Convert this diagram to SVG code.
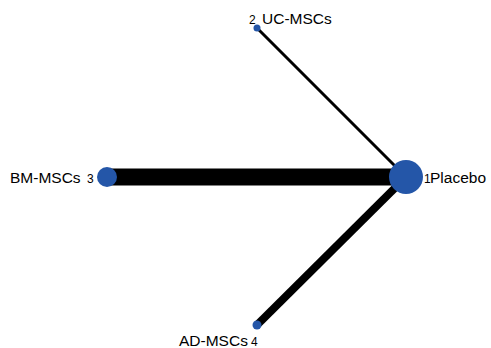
<svg xmlns="http://www.w3.org/2000/svg" width="491" height="348" viewBox="0 0 491 348">
  <style>
    .edge { stroke: #000; fill: none; }
    .node { fill: #2456A8; }
    .lbl { font-family: "Liberation Sans", Arial, sans-serif; font-size: 15.5px; fill: #000; }
    .num { font-family: "Liberation Sans", Arial, sans-serif; font-size: 12px; fill: #000; }
  </style>
  <rect width="491" height="348" fill="#fff"/>
  <g id="connectors">
    <line class="edge" x1="406" y1="177" x2="257" y2="28" stroke-width="3"/>
    <line class="edge" x1="406" y1="177" x2="107" y2="177" stroke-width="17"/>
    <line class="edge" x1="406" y1="177" x2="257" y2="325" stroke-width="8"/>
  </g>
  <g id="node-placebo">
    <circle class="node" cx="406" cy="177" r="17"/>
    <text class="num" x="424" y="183">1</text>
    <text class="lbl" x="430" y="183">Placebo</text>
  </g>
  <g id="node-uc">
    <circle class="node" cx="257" cy="28" r="3.5"/>
    <text class="num" x="249" y="24">2</text>
    <text class="lbl" x="262" y="24">UC-MSCs</text>
  </g>
  <g id="node-bm">
    <circle class="node" cx="107" cy="177" r="10"/>
    <text class="lbl" x="10" y="183">BM-MSCs</text>
    <text class="num" x="87" y="183">3</text>
  </g>
  <g id="node-ad">
    <circle class="node" cx="257" cy="325" r="4.5"/>
    <text class="lbl" x="179" y="346">AD-MSCs</text>
    <text class="num" x="251" y="346">4</text>
  </g>
</svg>
